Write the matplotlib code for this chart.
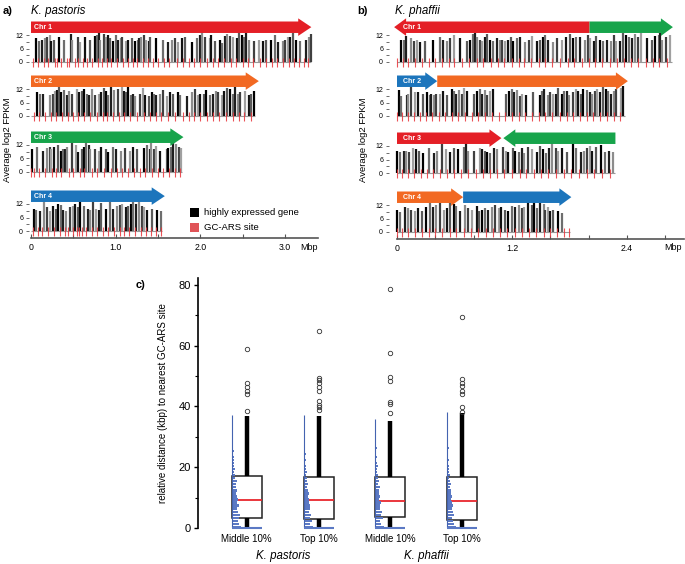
import matplotlib
matplotlib.use("Agg")
import matplotlib.pyplot as plt
from matplotlib.patches import Polygon, Rectangle

W, H = 685, 564
plt.rcParams['font.family'] = ['Liberation Sans', 'DejaVu Sans']

# ---------------- data: K. pastoris (panel a) ----------------
kp_len = [3.30, 2.64, 1.78, 1.55]
kp_names = ["Chr 1", "Chr 2", "Chr 3", "Chr 4"]

kp1_pos = [0.06, 0.10, 0.13, 0.16, 0.19, 0.22, 0.24, 0.27, 0.33, 0.39,
           0.47, 0.48, 0.56, 0.58, 0.64, 0.70, 0.76, 0.78, 0.80, 0.81,
           0.86, 0.89, 0.91, 0.93, 0.97, 1.00, 1.03, 1.06, 1.08, 1.12,
           1.15, 1.19, 1.23, 1.26, 1.28, 1.30, 1.33, 1.36, 1.39, 1.41,
           1.48, 1.56, 1.62, 1.66, 1.70, 1.74, 1.78, 1.82, 1.90, 1.96,
           1.99, 2.02, 2.06, 2.11, 2.13, 2.17, 2.23, 2.26, 2.29, 2.31,
           2.35, 2.39, 2.43, 2.46, 2.49, 2.51, 2.54, 2.57, 2.63, 2.69,
           2.74, 2.78, 2.83, 2.88, 2.92, 2.98, 3.00, 3.03, 3.06, 3.09,
           3.13, 3.18, 3.25, 3.28, 3.30]
kp1_fpkm = [10.5, 9.5, 10, 10.5, 11, 12, 9.5, 10, 11, 10,
            12.5, 10, 11, 9, 11, 10, 11.5, 12, 13.5, 10,
            12.5, 11, 12, 10.5, 9.5, 12, 10, 10.5, 11, 9.5,
            10, 10.5, 9.5, 10, 10.5, 11, 12, 10, 9.5, 11,
            10.5, 10, 9, 10, 10.5, 9, 10.5, 11, 9, 10.5,
            12, 14, 11, 10.5, 12, 9.5, 10, 8.5, 11.5, 12.5,
            11.5, 11, 10.5, 13.5, 12, 11, 13, 10, 9.5, 10,
            9.5, 10, 10, 12, 9, 9.5, 10, 11, 11, 13,
            10, 9.5, 10, 11, 12.5]
kp1_ars = [0.02, 0.08, 0.15, 0.20, 0.28, 0.31, 0.36, 0.42, 0.45, 0.52, 0.55, 0.61,
           0.66, 0.72, 0.79, 0.84, 0.90, 0.95, 1.02, 1.09, 1.14, 1.20, 1.25, 1.32,
           1.38, 1.44, 1.50, 1.57, 1.63, 1.72, 1.80, 1.87, 1.93, 2.00, 2.08, 2.15,
           2.21, 2.28, 2.36, 2.42, 2.50, 2.56, 2.62, 2.70, 2.77, 2.85, 2.90, 2.97,
           3.05, 3.11, 3.16, 3.22, 3.27]

kp2_pos = [0.07, 0.11, 0.14, 0.22, 0.26, 0.28, 0.31, 0.33, 0.36, 0.39,
           0.42, 0.45, 0.48, 0.54, 0.57, 0.60, 0.63, 0.66, 0.69, 0.72,
           0.76, 0.80, 0.83, 0.86, 0.89, 0.91, 0.95, 0.98, 1.03, 1.07,
           1.10, 1.12, 1.15, 1.18, 1.20, 1.23, 1.29, 1.32, 1.35, 1.39,
           1.43, 1.45, 1.48, 1.52, 1.56, 1.60, 1.64, 1.68, 1.74, 1.76,
           1.84, 1.90, 1.94, 1.97, 2.00, 2.04, 2.07, 2.11, 2.15, 2.18,
           2.21, 2.25, 2.28, 2.31, 2.35, 2.39, 2.41, 2.44, 2.47, 2.53,
           2.57, 2.60, 2.63]
kp2_fpkm = [10.5, 10, 10, 9.5, 10, 11, 11.5, 13.5, 10.5, 11.5,
            9.5, 11, 10, 12, 10.5, 11, 12, 10, 9.5, 12,
            9.5, 10, 10.5, 12.5, 11, 9.5, 13, 11.5, 12, 13.5,
            11, 10.5, 13, 9.5, 10, 9, 10, 12.5, 9.5, 9,
            10.5, 10, 9.5, 10, 11.5, 9, 10.5, 10, 10.5, 9.5,
            9, 10.5, 12, 9.5, 10, 10, 11.5, 9.5, 10, 11,
            10.5, 9.5, 11, 12.5, 12, 10, 13, 10, 10.5, 11,
            9.5, 10, 11]
kp2_ars = [0.03, 0.09, 0.17, 0.24, 0.30, 0.37, 0.44, 0.50, 0.56, 0.63, 0.70, 0.78,
           0.85, 0.90, 0.97, 1.04, 1.10, 1.17, 1.25, 1.33, 1.40, 1.47, 1.54, 1.62,
           1.70, 1.79, 1.86, 1.93, 2.00, 2.08, 2.15, 2.22, 2.30, 2.38, 2.45, 2.52, 2.60]

kp3_pos = [0.01, 0.07, 0.14, 0.19, 0.22, 0.24, 0.27, 0.32, 0.35, 0.38,
           0.40, 0.43, 0.48, 0.53, 0.56, 0.60, 0.62, 0.65, 0.68, 0.70,
           0.76, 0.80, 0.83, 0.89, 0.91, 0.97, 1.00, 1.06, 1.11, 1.17,
           1.21, 1.25, 1.33, 1.37, 1.40, 1.42, 1.45, 1.48, 1.52, 1.60,
           1.62, 1.65, 1.68, 1.71, 1.75, 1.77]
kp3_fpkm = [10, 11, 9.5, 10.5, 11, 10, 11, 12, 9.5, 10,
            10, 11, 14, 12, 9, 10, 11, 13.5, 12, 10,
            10, 9.5, 11, 10, 9, 11, 10, 9.5, 10.5, 9.5,
            11, 10, 10.5, 12, 10, 13, 10, 11.5, 9.5, 10,
            10.5, 11, 13, 12.5, 11, 10.5]
kp3_ars = [0.00, 0.04, 0.10, 0.17, 0.25, 0.30, 0.36, 0.45, 0.50, 0.58, 0.63, 0.72,
           0.78, 0.86, 0.94, 1.02, 1.08, 1.15, 1.22, 1.29, 1.35, 1.43, 1.50, 1.56,
           1.63, 1.70, 1.76]

kp4_pos = [0.04, 0.06, 0.11, 0.15, 0.19, 0.22, 0.26, 0.30, 0.32, 0.35,
           0.38, 0.41, 0.46, 0.49, 0.52, 0.55, 0.58, 0.62, 0.67, 0.70,
           0.73, 0.77, 0.80, 0.83, 0.89, 0.93, 0.97, 1.01, 1.05, 1.08,
           1.12, 1.15, 1.18, 1.21, 1.24, 1.27, 1.31, 1.33, 1.37, 1.43,
           1.49, 1.54]
kp4_fpkm = [10, 9.5, 9, 13.5, 10.5, 9, 11, 10, 12, 11.5,
            9.5, 9, 10.5, 11, 12, 10.5, 13.5, 11, 10, 9.5,
            13, 10, 9.5, 12.5, 10, 13.5, 10, 11, 11.5, 12,
            10.5, 11, 12, 13, 12, 14, 11, 10.5, 9.5, 10,
            9.5, 9]
kp4_ars = [0.02, 0.08, 0.13, 0.20, 0.27, 0.34, 0.40, 0.44, 0.50, 0.54, 0.57, 0.60,
           0.65, 0.72, 0.78, 0.85, 0.91, 0.98, 1.05, 1.10, 1.16, 1.23, 1.30, 1.36,
           1.42, 1.48, 1.53]

# ---------------- data: K. phaffii (panel b) ----------------
kf_len = [2.87, 2.38, 2.28, 1.81]
kf_names = ["Chr 1", "Chr 2", "Chr 3", "Chr 4"]
# synteny segments: (start, end, colour key, direction)
kf_segments = [
    [(-0.03, 2.01, "red", "left"), (2.01, 2.88, "green", "right")],
    [(0.0, 0.42, "blue", "right"), (0.42, 2.41, "orange", "right")],
    [(0.0, 1.09, "red", "right"), (1.11, 2.28, "green", "left")],
    [(0.0, 0.69, "orange", "right"), (0.69, 1.82, "blue", "right")],
]
kp_segments = [
    [(0.0, 3.31, "red", "right")],
    [(0.0, 2.69, "orange", "right")],
    [(0.0, 1.80, "green", "right")],
    [(0.0, 1.58, "blue", "right")],
]

kf1_pos = [0.04, 0.07, 0.09, 0.15, 0.18, 0.21, 0.24, 0.29, 0.38, 0.45,
           0.48, 0.52, 0.55, 0.60, 0.66, 0.73, 0.76, 0.79, 0.81, 0.84,
           0.87, 0.89, 0.92, 0.94, 0.97, 1.00, 1.04, 1.08, 1.10, 1.13,
           1.16, 1.19, 1.21, 1.25, 1.28, 1.34, 1.38, 1.41, 1.46, 1.49,
           1.52, 1.54, 1.58, 1.63, 1.67, 1.72, 1.76, 1.81, 1.84, 1.87,
           1.91, 1.96, 1.99, 2.01, 2.06, 2.08, 2.12, 2.15, 2.19, 2.23,
           2.26, 2.29, 2.33, 2.36, 2.39, 2.42, 2.45, 2.48, 2.52, 2.55,
           2.61, 2.66, 2.69, 2.73, 2.75, 2.77, 2.81, 2.85]
kf1_fpkm = [10, 10, 11.5, 10.5, 9.5, 10, 9, 9.5, 10, 11,
            10, 9.5, 10.5, 12, 10.5, 9.5, 10, 12.5, 13, 11,
            10, 9.5, 11, 12.5, 10, 9.5, 10.5, 10, 10, 9.5,
            10, 11, 9.5, 10.5, 11, 9, 10, 11.5, 9.5, 10,
            11, 12, 10, 9, 10.5, 10, 11, 12.5, 10.5, 11,
            11, 10, 12, 10.5, 9.5, 11.5, 10, 9.5, 10, 9.5,
            12, 9.5, 9.5, 13, 12, 11, 10.5, 12.5, 11, 13,
            10.5, 10, 11.5, 12, 13, 10, 11, 12]
kf1_ars = [0.00, 0.06, 0.12, 0.19, 0.26, 0.33, 0.40, 0.47, 0.54, 0.60, 0.68, 0.75,
           0.83, 0.90, 0.98, 1.05, 1.12, 1.20, 1.27, 1.33, 1.40, 1.48, 1.55, 1.62,
           1.70, 1.78, 1.85, 1.93, 2.00, 2.07, 2.14, 2.22, 2.30, 2.37, 2.44, 2.52,
           2.60, 2.67, 2.74, 2.82]

kf2_pos = [0.02, 0.04, 0.10, 0.12, 0.15, 0.19, 0.22, 0.27, 0.31, 0.34,
           0.36, 0.39, 0.41, 0.45, 0.48, 0.52, 0.57, 0.60, 0.62, 0.65,
           0.68, 0.70, 0.73, 0.80, 0.84, 0.87, 0.89, 0.92, 0.94, 0.97,
           1.00, 1.14, 1.17, 1.20, 1.22, 1.25, 1.28, 1.30, 1.35, 1.42,
           1.49, 1.51, 1.53, 1.58, 1.60, 1.63, 1.66, 1.68, 1.72, 1.74,
           1.77, 1.80, 1.84, 1.87, 1.89, 1.92, 1.94, 1.98, 2.01, 2.04,
           2.07, 2.09, 2.12, 2.15, 2.18, 2.20, 2.23, 2.26, 2.29, 2.34,
           2.36]
kf2_fpkm = [11.5, 9, 9.5, 10, 13.5, 10.5, 10.5, 10, 10.5, 9.5,
            10, 9.5, 10, 10, 11, 9.5, 12, 11, 10, 11.5,
            10, 12.5, 11, 10, 11, 12, 10, 11.5, 9.5, 11,
            12, 10, 11, 12, 10.5, 11.5, 9, 10, 9.5, 10.5,
            9.5, 11, 12, 9.5, 10.5, 10, 10, 12.5, 10, 11,
            11, 9.5, 10.5, 12, 11, 10, 12, 11.5, 10.5, 10,
            11, 12, 10.5, 13, 12, 11, 10, 11, 12, 12.5,
            13.5]
kf2_ars = [0.00, 0.05, 0.11, 0.18, 0.24, 0.30, 0.37, 0.44, 0.50, 0.57, 0.64, 0.71,
           0.78, 0.85, 0.92, 0.99, 1.06, 1.13, 1.20, 1.27, 1.34, 1.41, 1.48, 1.55,
           1.62, 1.70, 1.77, 1.84, 1.91, 1.98, 2.05, 2.12, 2.19, 2.26, 2.33]

kf3_pos = [0.00, 0.03, 0.07, 0.09, 0.13, 0.17, 0.20, 0.23, 0.27, 0.33,
           0.39, 0.42, 0.47, 0.51, 0.55, 0.59, 0.64, 0.70, 0.72, 0.74,
           0.80, 0.87, 0.89, 0.92, 0.94, 0.97, 1.01, 1.04, 1.11, 1.14,
           1.16, 1.21, 1.23, 1.27, 1.30, 1.33, 1.37, 1.41, 1.46, 1.49,
           1.52, 1.56, 1.59, 1.62, 1.66, 1.68, 1.72, 1.77, 1.84, 1.87,
           1.92, 1.95, 1.98, 2.01, 2.04, 2.08, 2.13, 2.17, 2.21, 2.25]
kf3_fpkm = [10, 9.5, 10, 10, 9.5, 11, 10.5, 10, 9, 11,
            9, 10, 13, 10.5, 9.5, 11, 10.5, 11.5, 13.5, 10,
            10, 11, 10.5, 10, 9.5, 9, 11, 10.5, 11.5, 10,
            9.5, 11, 10, 9.5, 11, 9, 11.5, 10.5, 9.5, 12,
            10.5, 9, 11, 13.5, 11, 10, 11, 9.5, 14, 11,
            9.5, 10, 11, 12, 10, 11.5, 12.5, 9.5, 10, 9.5]
kf3_ars = [0.00, 0.05, 0.11, 0.18, 0.25, 0.31, 0.38, 0.45, 0.52, 0.60, 0.67, 0.74,
           0.82, 0.90, 0.97, 1.04, 1.12, 1.20, 1.28, 1.35, 1.43, 1.50, 1.58, 1.66,
           1.74, 1.82, 1.90, 1.98, 2.06, 2.14, 2.22]

kf4_pos = [0.00, 0.03, 0.08, 0.12, 0.15, 0.19, 0.22, 0.26, 0.30, 0.34,
           0.38, 0.41, 0.45, 0.49, 0.52, 0.55, 0.59, 0.62, 0.66, 0.71,
           0.74, 0.78, 0.83, 0.86, 0.89, 0.92, 0.95, 0.99, 1.02, 1.06,
           1.09, 1.13, 1.16, 1.20, 1.23, 1.27, 1.30, 1.33, 1.37, 1.41,
           1.43, 1.46, 1.49, 1.53, 1.55, 1.58, 1.60, 1.63, 1.68, 1.72]
kf4_fpkm = [10, 9, 11, 10.5, 10, 9.5, 10.5, 9.5, 11, 14,
            11, 12, 13, 10, 10.5, 13.5, 12.5, 11.5, 9.5, 12,
            10.5, 10, 11.5, 9.5, 10, 10.5, 10, 11, 12, 10.5,
            11, 10, 9.5, 11.5, 11, 12, 10.5, 11, 13.5, 12,
            14, 10.5, 13, 12.5, 10, 11, 9.5, 10, 9.5, 8.5]
kf4_ars = [0.00, 0.05, 0.12, 0.19, 0.26, 0.33, 0.40, 0.47, 0.55, 0.62, 0.70, 0.77,
           0.85, 0.93, 1.00, 1.08, 1.15, 1.23, 1.30, 1.38, 1.45, 1.53, 1.60, 1.67,
           1.74, 1.80]

kp_rows = [(kp1_pos, kp1_fpkm, kp1_ars), (kp2_pos, kp2_fpkm, kp2_ars),
           (kp3_pos, kp3_fpkm, kp3_ars), (kp4_pos, kp4_fpkm, kp4_ars)]
kf_rows = [(kf1_pos, kf1_fpkm, kf1_ars), (kf2_pos, kf2_fpkm, kf2_ars),
           (kf3_pos, kf3_fpkm, kf3_ars), (kf4_pos, kf4_fpkm, kf4_ars)]

# ---------------- data: panel c ----------------
groups = ["Middle 10%", "Top 10%", "Middle 10%", "Top 10%"]
species = ["K. pastoris", "K. phaffii"]
q1 = [3.2, 3.0, 3.7, 2.6]
med = [9.3, 9.2, 9.0, 9.0]
q3 = [17.2, 16.9, 16.7, 16.9]
whis_hi = [36.9, 36.9, 35.3, 37.8]
outliers = [
    [38.6, 44.1, 45.2, 46.3, 47.6, 58.9],
    [38.8, 39.7, 40.5, 41.9, 45.2, 46.5, 47.6, 48.5, 49.2, 64.9],
    [37.9, 40.7, 41.5, 48.4, 49.6, 57.7, 78.6],
    [38.3, 39.9, 44.1, 45.2, 46.7, 47.8, 48.9, 69.5],
]
hist_counts = [
    [9, 7, 6, 7, 8, 6, 5, 7, 5, 6, 5, 4, 5, 4, 4, 5, 3, 3, 2, 3, 2, 2, 2, 2, 1, 2, 1, 1, 1, 1, 1, 1, 1, 1, 1, 1, 1],
    [9, 6, 8, 6, 7, 5, 6, 6, 5, 5, 4, 5, 4, 3, 4, 3, 3, 2, 3, 2, 2, 1, 2, 1, 2, 1, 1, 1, 1, 1, 1, 1, 0, 1, 1, 1, 1],
    [9, 6, 5, 8, 6, 7, 5, 5, 6, 4, 5, 4, 4, 5, 3, 4, 3, 3, 2, 2, 3, 2, 1, 2, 1, 1, 2, 1, 1, 1, 1, 1, 1, 1, 1, 0],
    [9, 7, 6, 5, 7, 6, 5, 6, 5, 4, 5, 4, 4, 3, 4, 3, 2, 3, 2, 2, 2, 1, 2, 1, 1, 1, 2, 1, 1, 1, 1, 1, 1, 1, 1, 1, 1, 1],
]

# ---------------- styles ----------------
ARROW = {"red": "#e41f26", "orange": "#f26922", "green": "#17a44b", "blue": "#1c75bc"}
SHADES = ["#000000", "#6e6e6e", "#1e1e1e", "#8c8c8c", "#404040", "#a0a0a0", "#111111", "#5a5a5a"]
ARS_COL = "#e8343a"


def rect(x0, y0, x1, y1):
    return [x0 / W, 1 - y1 / H, (x1 - x0) / W, (y1 - y0) / H]


fig = plt.figure(figsize=(W / 100, H / 100), dpi=100)

S = 2.25  # px per FPKM unit
YLO, YHI = -3, 20


def draw_arrow(ax, x0, x1, color, direction, head):
    yb, yt, hb, ht = 12.9, 18.0, 11.6, 19.4
    mid = (hb + ht) / 2
    if direction == "right":
        pts = [(x0, yb), (x1 - head, yb), (x1 - head, hb), (x1, mid),
               (x1 - head, ht), (x1 - head, yt), (x0, yt)]
    else:
        pts = [(x1, yb), (x0 + head, yb), (x0 + head, hb), (x0, mid),
               (x0 + head, ht), (x0 + head, yt), (x1, yt)]
    ax.add_patch(Polygon(pts, closed=True, facecolor=ARROW[color],
                         edgecolor="none", zorder=5))


def panel(rows, lengths, names, segments, zeros, x0px, scale, xlim, head,
          xticks, xlabels, xminor, spine_end, labels_x):
    axes = []
    for i, (pos, fpkm, ars) in enumerate(rows):
        z = zeros[i]
        left = x0px + xlim[0] * scale
        right = x0px + xlim[1] * scale
        ax = fig.add_axes(rect(left, z - YHI * S, right, z - YLO * S))
        ax.set_xlim(*xlim)
        ax.set_ylim(YLO, YHI)
        ax.patch.set_alpha(0)
        for sp in ["top", "right", "left"]:
            ax.spines[sp].set_visible(False)
        cols = [SHADES[k % len(SHADES)] for k in range(len(pos))]
        ax.vlines(pos, 0, fpkm, colors=cols, lw=1.6, zorder=2)
        ax.hlines(0, 0, lengths[i], colors="#9a9a9a", lw=0.8, zorder=1)
        ax.vlines(ars, -2.2, 1.6, colors=ARS_COL, lw=0.8, alpha=0.85, zorder=3)
        for (s0, s1, c, d) in segments[i]:
            draw_arrow(ax, s0, s1, c, d, head)
        ax.text(labels_x, 15.5, names[i], color="white", fontsize=5,
                fontweight="bold", va="center", ha="left", zorder=6)
        ax.set_yticks([0, 6, 12])
        ax.set_yticklabels(["0", "6", "12"])
        ax.set_yticks([3, 9], minor=True)
        ax.tick_params(axis="y", which="both", length=2, width=0.6,
                       color="#555555", labelsize=5, pad=2.5)
        if i < len(rows) - 1:
            ax.spines["bottom"].set_visible(False)
            ax.set_xticks([])
        else:
            ax.spines["bottom"].set_bounds(0, spine_end)
            ax.spines["bottom"].set_color("#555555")
            ax.spines["bottom"].set_linewidth(1.2)
            ax.set_xticks(xticks)
            ax.set_xticklabels(xlabels)
            ax.set_xticks(xminor, minor=True)
            ax.tick_params(axis="x", which="both", direction="in", length=3,
                           width=0.8, color="#555555", labelsize=6.3, pad=4)
        axes.append(ax)
    return axes


panel(kp_rows, kp_len, kp_names, kp_segments, [62, 116, 172, 231], 31, 84.7,
      (-0.02, 3.6), 0.155, [0, 1, 2, 3], ["0", "1.0", "2.0", "3.0"],
      [0.5, 1.5, 2.5], 3.39, 0.03)
panel(kf_rows, kf_len, kf_names, kf_segments, [62, 116, 173, 232], 397, 95.8,
      (-0.08, 3.0), 0.125, [0, 1.2, 2.4], ["0", "1.2", "2.4"],
      [0.4, 0.8, 1.6, 2.0, 2.8], 3.0, 0.06)

# Mbp labels
fig.text(309 / W, 1 - 247 / H, "Mbp", fontsize=6.5, ha="center", va="center")
fig.text(673 / W, 1 - 248 / H, "Mbp", fontsize=6.5, ha="center", va="center")

# y labels
fig.text(8 / W, 1 - 140 / H, "Average log2 FPKM", rotation=90, fontsize=6.8,
         ha="center", va="center")
fig.text(363 / W, 1 - 140 / H, "Average log2 FPKM", rotation=90, fontsize=6.8,
         ha="center", va="center")

# panel titles
fig.text(3 / W, 1 - 11 / H, "a)", fontsize=8, fontweight="bold", ha="left", va="center")
fig.text(31 / W, 1 - 11 / H, "K. pastoris", fontsize=8.3, style="italic",
         ha="left", va="center")
fig.text(357 / W, 1 - 11 / H, "b)", fontsize=8, fontweight="bold", ha="left", va="center")
fig.text(395 / W, 1 - 11 / H, "K. phaffii", fontsize=8.3, style="italic",
         ha="left", va="center")

# legend (panel a)
fig.add_artist(Rectangle((190 / W, 1 - 217 / H), 9 / W, 9 / H,
                         transform=fig.transFigure, facecolor="black", edgecolor="none"))
fig.add_artist(Rectangle((190 / W, 1 - 232 / H), 9 / W, 9 / H,
                         transform=fig.transFigure, facecolor="#e05458", edgecolor="none"))
fig.text(204 / W, 1 - 212.5 / H, "highly expressed gene", fontsize=6.8, va="center", ha="left")
fig.text(204 / W, 1 - 227.5 / H, "GC-ARS site", fontsize=6.8, va="center", ha="left")

# ---------------- panel c ----------------
axc = fig.add_axes(rect(198, 278, 498, 528))
axc.set_xlim(0.32, 4.5)
axc.set_ylim(0, 82.2)
axc.patch.set_alpha(0)
for sp in ["top", "right", "bottom"]:
    axc.spines[sp].set_visible(False)
axc.spines["left"].set_linewidth(1.2)

positions = [1, 2, 3, 4]
stats = []
for k in range(4):
    stats.append({"med": med[k], "q1": q1[k], "q3": q3[k], "whislo": 0.0,
                  "whishi": whis_hi[k], "fliers": outliers[k], "label": groups[k]})
BW = 0.42
axc.bxp(stats, positions=positions, widths=BW, patch_artist=True,
        showcaps=False,
        boxprops=dict(facecolor="white", edgecolor="#222222", linewidth=1.1),
        whiskerprops=dict(color="black", linewidth=3.2, solid_capstyle="butt"),
        medianprops=dict(color="#e8262d", linewidth=1.3),
        flierprops=dict(marker="o", markerfacecolor="none", markeredgecolor="#333333",
                        markersize=3.2, markeredgewidth=0.6))

UNIT = 1 / 71.7  # x-units per pixel
for k in range(4):
    left = positions[k] - BW / 2
    counts = hist_counts[k]
    bottoms = list(range(len(counts)))
    widths = [min(c * UNIT * 1.0, BW) for c in counts]
    axc.barh(bottoms, widths, height=0.75, left=left, align="edge",
             color="#5b79c4", edgecolor="none", zorder=4)
    axc.vlines(left, 0, len(counts), colors="#4463b0", lw=0.8, zorder=4)
    axc.hlines(0, left, left + BW, colors="#5b79c4", lw=1.5, zorder=4, clip_on=False)

axc.set_xticks(positions)
axc.set_xticklabels(groups)
axc.tick_params(axis="x", length=0, labelsize=7, pad=4)
axc.set_yticks([0, 20, 40, 60, 80])
axc.set_yticks([10, 30, 50, 70], minor=True)
axc.tick_params(axis="y", which="major", length=3, width=1, labelsize=8, pad=2)
axc.tick_params(axis="y", which="minor", length=2, width=0.8)
axc.set_ylabel("relative distance (kbp) to nearest GC-ARS site", fontsize=7, labelpad=8)

fig.text(283 / W, 1 - 556 / H, species[0], fontsize=8.3, style="italic",
         ha="center", va="center")
fig.text(426 / W, 1 - 556 / H, species[1], fontsize=8.3, style="italic",
         ha="center", va="center")
fig.text(136 / W, 1 - 285 / H, "c)", fontsize=8, fontweight="bold", ha="left", va="center")

fig.savefig("out.png", dpi=100)
